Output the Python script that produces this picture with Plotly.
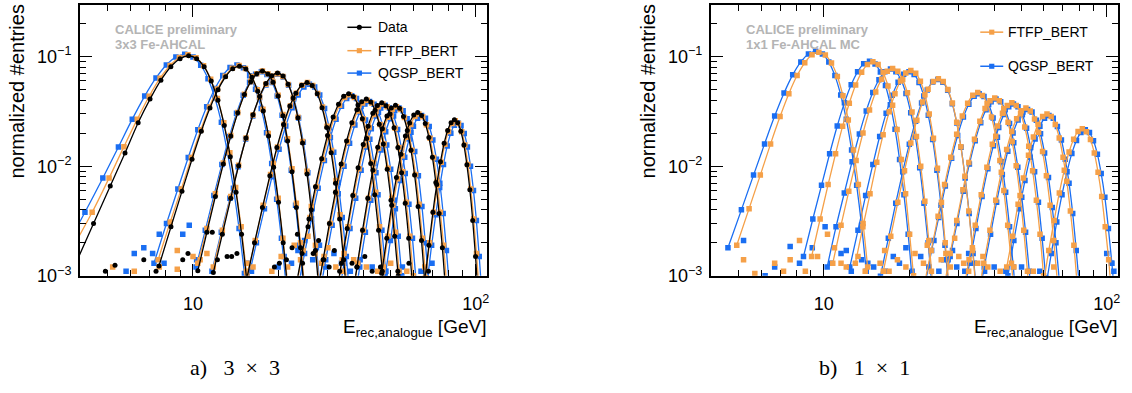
import plotly.graph_objects as go

W, H = 1132, 393
FONT = "Liberation Sans, Arial, sans-serif"
SERIF = "Liberation Serif, Times New Roman, serif"
ORANGE = "#F5A048"
BLUE = "#1A6EF2"
BLACK = "#000000"
GREY = "#b4b4b4"

energies = [10, 15, 18, 20, 25, 35, 40, 45, 50, 60, 80]

# ---------------- Panel a : 3x3 Fe-AHCAL (Data, FTFP_BERT, QGSP_BERT) ----------------
# centre of the peak bin and bin width for each beam energy (GeV)
a_data_centre = [9.65, 14.6, 17.6, 19.9, 25.3, 35.5, 41.0, 46.5, 52.0, 62.3, 84.0]
a_data_bw = [0.65, 0.78, 0.8, 0.9, 1.1, 1.4, 1.52, 1.63, 1.75, 1.98, 2.25]
a_data_y = [
    [0.0012, 0.003, 0.0066, 0.0132, 0.025, 0.041, 0.061, 0.081, 0.096, 0.102, 0.096, 0.081, 0.060, 0.040, 0.0235, 0.0122, 0.0058, 0.0024, 0.0009],
    [0.00123, 0.0028, 0.0059, 0.0116, 0.0209, 0.034, 0.050, 0.0656, 0.0775, 0.082, 0.0771, 0.0648, 0.0484, 0.032, 0.0189, 0.0098, 0.0047, 0.002, 0.00074],
    [0.00111, 0.0025, 0.0053, 0.0105, 0.0189, 0.0307, 0.0451, 0.0592, 0.070, 0.074, 0.0696, 0.0585, 0.0437, 0.0289, 0.017, 0.0089, 0.0042, 0.0018, 0.00067],
    [0.00107, 0.0024, 0.0051, 0.0101, 0.0181, 0.0295, 0.0433, 0.0568, 0.0671, 0.071, 0.0667, 0.0561, 0.0419, 0.0277, 0.0163, 0.0085, 0.004, 0.0017, 0.00064],
    [0.00087, 0.002, 0.0042, 0.0082, 0.0148, 0.0241, 0.0354, 0.0464, 0.0548, 0.058, 0.0545, 0.0458, 0.0342, 0.0226, 0.0133, 0.007, 0.0033, 0.0014, 0.00052],
    [0.00069, 0.0016, 0.0033, 0.0065, 0.0117, 0.0191, 0.0281, 0.0368, 0.0435, 0.046, 0.0432, 0.0363, 0.0271, 0.0179, 0.0106, 0.0055, 0.0026, 0.0011, 0.00041],
    [0.00062, 0.0014, 0.003, 0.0058, 0.0105, 0.017, 0.025, 0.0328, 0.0387, 0.041, 0.0385, 0.0324, 0.0242, 0.016, 0.0094, 0.0049, 0.0023, 0.001, 0.00037],
    [0.00057, 0.0013, 0.0027, 0.0054, 0.0097, 0.0158, 0.0232, 0.0304, 0.0359, 0.038, 0.0357, 0.030, 0.0224, 0.0148, 0.0087, 0.0046, 0.0022, 0.0009, 0.00034],
    [0.00054, 0.0012, 0.0026, 0.0051, 0.0092, 0.0149, 0.022, 0.0288, 0.034, 0.036, 0.0338, 0.0284, 0.0212, 0.014, 0.0083, 0.0043, 0.0021, 0.00086, 0.00032],
    [0.00105, 0.0022, 0.0044, 0.0079, 0.0129, 0.0189, 0.0248, 0.0293, 0.031, 0.0291, 0.0245, 0.0183, 0.0121, 0.0071, 0.0037, 0.0018, 0.00074],
    [0.0009, 0.0019, 0.0038, 0.0068, 0.011, 0.0162, 0.0212, 0.025, 0.0265, 0.0249, 0.0209, 0.0156, 0.0103, 0.0061, 0.0032, 0.0015, 0.00064],
]
a_data_tail_x = [4.9, 5.3, 6.7, 7.4, 9.2, 9.6, 11.7, 12.2, 13.2, 13.7, 14.3, 19.4, 20.2, 21.4, 22.4, 23.4, 24.4, 25.5, 26.6, 27.8, 29.0, 30.3, 31.6, 33.0, 36.5, 38.0, 40.5, 43.0, 46.0, 53.0, 58.0, 68.0]
a_data_tail_y = [0.0011, 0.00125, 0.0014, 0.0011, 0.0014, 0.0016, 0.0025, 0.0014, 0.0015, 0.0015, 0.0016, 0.0012, 0.0013, 0.0014, 0.0018, 0.0024, 0.0013, 0.0028, 0.0016, 0.0021, 0.0014, 0.0012, 0.0017, 0.0011, 0.0013, 0.0012, 0.0015, 0.0011, 0.0012, 0.0011, 0.0013, 0.0011]

a_ftfp_centre = [9.6, 14.55, 17.6, 19.9, 25.4, 35.8, 41.3, 46.9, 52.4, 62.9, 84.6]
a_ftfp_bw = [0.65, 0.78, 0.8, 0.9, 1.1, 1.41, 1.53, 1.65, 1.77, 2.0, 2.28]
a_ftfp_y = [
    [0.0018, 0.0038, 0.0078, 0.0151, 0.0268, 0.0435, 0.0636, 0.0832, 0.0983, 0.104, 0.098, 0.0827, 0.0624, 0.0416, 0.025, 0.0133, 0.0064, 0.0028, 0.0011],
    [0.0014, 0.0031, 0.0062, 0.012, 0.0214, 0.0347, 0.0508, 0.0664, 0.0784, 0.083, 0.0782, 0.066, 0.0498, 0.0332, 0.0199, 0.0106, 0.0051, 0.0022, 0.0009],
    [0.0013, 0.0027, 0.0056, 0.0107, 0.0191, 0.0309, 0.0453, 0.0592, 0.0699, 0.074, 0.0697, 0.0588, 0.0444, 0.0296, 0.0178, 0.0095, 0.0046, 0.002, 0.0008],
    [0.0012, 0.0026, 0.0053, 0.0102, 0.0181, 0.0293, 0.0428, 0.056, 0.0662, 0.070, 0.0659, 0.0557, 0.042, 0.028, 0.0168, 0.009, 0.0043, 0.0019, 0.00077],
    [0.001, 0.0021, 0.0044, 0.0084, 0.015, 0.0242, 0.0355, 0.0464, 0.0548, 0.058, 0.0546, 0.0461, 0.0348, 0.0232, 0.0139, 0.0074, 0.0036, 0.0016, 0.00064],
    [0.00077, 0.0017, 0.0034, 0.0065, 0.0116, 0.0188, 0.0275, 0.036, 0.0425, 0.045, 0.0424, 0.0358, 0.027, 0.018, 0.0108, 0.0058, 0.0028, 0.0012, 0.0005],
    [0.00068, 0.0015, 0.003, 0.0058, 0.0103, 0.0167, 0.0245, 0.032, 0.0378, 0.040, 0.0377, 0.0318, 0.024, 0.016, 0.0096, 0.0051, 0.0025, 0.0011, 0.00044],
    [0.00063, 0.0014, 0.0028, 0.0054, 0.0095, 0.0155, 0.0226, 0.0296, 0.035, 0.037, 0.0349, 0.0294, 0.0222, 0.0148, 0.0089, 0.0047, 0.0023, 0.001, 0.00041],
    [0.0006, 0.0013, 0.0026, 0.0051, 0.009, 0.0146, 0.0214, 0.028, 0.0331, 0.035, 0.033, 0.0278, 0.021, 0.014, 0.0084, 0.0045, 0.0022, 0.00095, 0.00039],
    [0.0011, 0.0023, 0.0044, 0.0077, 0.0125, 0.0184, 0.024, 0.0284, 0.030, 0.0283, 0.0239, 0.018, 0.012, 0.0072, 0.0038, 0.0019, 0.00081],
    [0.00096, 0.002, 0.0038, 0.0067, 0.0109, 0.0159, 0.0208, 0.0246, 0.026, 0.0245, 0.0207, 0.0156, 0.0104, 0.0062, 0.0033, 0.0016, 0.0007],
]
a_ftfp_tail_x = [5.2, 6.2, 7.6, 8.8, 8.8, 10.0, 10.6, 11.2, 15.5, 16.3, 19.0, 20.5, 21.6, 22.8, 24.0, 25.5, 27.0, 28.5, 30.0, 32.0, 34.0, 37.0, 41.0, 45.0, 50.0, 57.0, 66.0]
a_ftfp_tail_y = [0.0012, 0.0011, 0.0012, 0.00115, 0.0017, 0.0015, 0.0014, 0.0016, 0.0013, 0.0012, 0.0011, 0.0015, 0.0012, 0.0019, 0.0014, 0.0023, 0.0016, 0.0013, 0.0018, 0.0012, 0.0011, 0.0014, 0.0012, 0.0011, 0.0013, 0.0011, 0.0012]

a_qgsp_centre = [9.35, 14.3, 17.45, 19.95, 25.8, 36.4, 42.1, 47.8, 53.5, 64.3, 86.3]
a_qgsp_bw = [0.65, 0.78, 0.8, 0.92, 1.13, 1.45, 1.58, 1.7, 1.83, 2.06, 2.36]
a_qgsp_y = [
    [0.0017, 0.0038, 0.0078, 0.015, 0.0269, 0.0437, 0.064, 0.084, 0.0993, 0.105, 0.0991, 0.0837, 0.063, 0.042, 0.0252, 0.0132, 0.0063, 0.0027, 0.00105],
    [0.0013, 0.003, 0.0062, 0.012, 0.0215, 0.0349, 0.0512, 0.0672, 0.0795, 0.084, 0.0793, 0.067, 0.0504, 0.0336, 0.0202, 0.0106, 0.005, 0.0022, 0.00084],
    [0.0012, 0.0026, 0.0054, 0.0104, 0.0187, 0.0304, 0.0445, 0.0584, 0.0691, 0.073, 0.0689, 0.0582, 0.0438, 0.0292, 0.0175, 0.0092, 0.0044, 0.0019, 0.00073],
    [0.0011, 0.0025, 0.0051, 0.0099, 0.0177, 0.0287, 0.0421, 0.0552, 0.0653, 0.069, 0.0651, 0.055, 0.0414, 0.0276, 0.0166, 0.0087, 0.0041, 0.0018, 0.0007],
    [0.0009, 0.002, 0.0041, 0.008, 0.0143, 0.0233, 0.0342, 0.0448, 0.053, 0.056, 0.0529, 0.0446, 0.0336, 0.0224, 0.0134, 0.0071, 0.0034, 0.0015, 0.00056],
    [0.0007, 0.0016, 0.0033, 0.0063, 0.0113, 0.0183, 0.0268, 0.0352, 0.0416, 0.044, 0.0415, 0.0351, 0.0264, 0.0176, 0.0106, 0.0055, 0.0026, 0.0011, 0.00044],
    [0.00062, 0.0014, 0.0029, 0.0056, 0.01, 0.0162, 0.0238, 0.0312, 0.0369, 0.039, 0.0368, 0.0311, 0.0234, 0.0156, 0.0094, 0.0049, 0.0023, 0.001, 0.00039],
    [0.00058, 0.0013, 0.0027, 0.0051, 0.0092, 0.015, 0.022, 0.0288, 0.0341, 0.036, 0.034, 0.0287, 0.0216, 0.0144, 0.0086, 0.0045, 0.0022, 0.00094, 0.00036],
    [0.00054, 0.0012, 0.0025, 0.0049, 0.0087, 0.0141, 0.0207, 0.0272, 0.0322, 0.034, 0.0321, 0.0271, 0.0204, 0.0136, 0.0082, 0.0043, 0.002, 0.00088, 0.00034],
    [0.001, 0.0021, 0.0041, 0.0074, 0.0121, 0.0177, 0.0232, 0.0274, 0.029, 0.0274, 0.0231, 0.0174, 0.0116, 0.007, 0.0037, 0.0017, 0.00075],
    [0.0009, 0.0019, 0.0036, 0.0064, 0.0104, 0.0153, 0.020, 0.0237, 0.025, 0.0236, 0.0199, 0.015, 0.01, 0.006, 0.0032, 0.0015, 0.00065],
]
a_qgsp_tail_x = [5.8, 6.2, 6.7, 7.2, 7.6, 7.9, 9.2, 9.7, 10.3, 15.6, 16.1, 20.0, 21.0, 22.3, 23.5, 24.8, 26.5, 28.0, 29.5, 31.5, 33.5, 36.0, 39.0, 43.0, 48.0, 55.0, 64.0, 70.0]
a_qgsp_tail_y = [0.0011, 0.0016, 0.0018, 0.0016, 0.0024, 0.0013, 0.0024, 0.0029, 0.0014, 0.0013, 0.0011, 0.0012, 0.0015, 0.0013, 0.0017, 0.0021, 0.0014, 0.0019, 0.0012, 0.0016, 0.0013, 0.0011, 0.0014, 0.0012, 0.0011, 0.0012, 0.0011, 0.0013]

# ---------------- Panel b : 1x1 Fe-AHCAL MC (FTFP_BERT, QGSP_BERT) ----------------
b_ftfp_centre = [9.6, 14.9, 17.5, 20.3, 25.4, 35.0, 40.2, 46.2, 51.8, 61.5, 82.0]
b_ftfp_bw = [0.52, 0.65, 0.75, 0.82, 1.02, 1.38, 1.53, 1.7, 1.88, 2.15, 2.8]
b_ftfp_y = [
    [0.0019, 0.0041, 0.0083, 0.016, 0.0284, 0.046, 0.0673, 0.088, 0.104, 0.110, 0.1036, 0.0875, 0.066, 0.044, 0.0264, 0.0141, 0.0068, 0.003, 0.0012],
    [0.0015, 0.0033, 0.0068, 0.013, 0.0232, 0.0376, 0.0551, 0.072, 0.085, 0.090, 0.0848, 0.0716, 0.054, 0.036, 0.0216, 0.0115, 0.0056, 0.0024, 0.001],
    [0.0013, 0.0029, 0.0059, 0.0113, 0.0201, 0.0326, 0.0477, 0.0624, 0.0737, 0.078, 0.0735, 0.062, 0.0468, 0.0312, 0.0187, 0.01, 0.0048, 0.0021, 0.00086],
    [0.0013, 0.0028, 0.0056, 0.0109, 0.0194, 0.0314, 0.0459, 0.060, 0.0709, 0.075, 0.0707, 0.0596, 0.045, 0.030, 0.018, 0.0096, 0.0047, 0.002, 0.00083],
    [0.0011, 0.0023, 0.0047, 0.0091, 0.0163, 0.0263, 0.0386, 0.0504, 0.0595, 0.063, 0.0593, 0.0501, 0.0378, 0.0252, 0.0151, 0.0081, 0.0039, 0.0017, 0.0007],
    [0.0008, 0.0017, 0.0035, 0.0068, 0.0121, 0.0196, 0.0288, 0.0376, 0.0444, 0.047, 0.0443, 0.0374, 0.0282, 0.0188, 0.0113, 0.006, 0.0029, 0.0013, 0.00052],
    [0.00071, 0.0016, 0.0032, 0.0061, 0.0108, 0.0176, 0.0257, 0.0336, 0.0397, 0.042, 0.0396, 0.0334, 0.0252, 0.0168, 0.0101, 0.0054, 0.0026, 0.0011, 0.00046],
    [0.00065, 0.0014, 0.0029, 0.0055, 0.0098, 0.0159, 0.0233, 0.0304, 0.0359, 0.038, 0.0358, 0.0302, 0.0228, 0.0152, 0.0091, 0.0049, 0.0024, 0.001, 0.00042],
    [0.00058, 0.0013, 0.0026, 0.0049, 0.0088, 0.0142, 0.0208, 0.0272, 0.0321, 0.034, 0.032, 0.027, 0.0204, 0.0136, 0.0082, 0.0044, 0.0021, 0.00092, 0.00037],
    [0.0012, 0.0023, 0.0045, 0.0078, 0.0126, 0.0185, 0.0241, 0.0285, 0.030, 0.0284, 0.024, 0.0181, 0.0121, 0.0073, 0.0039, 0.0019, 0.0008],
    [0.00081, 0.0017, 0.0032, 0.0057, 0.0092, 0.0135, 0.0176, 0.0208, 0.022, 0.0207, 0.0175, 0.0132, 0.0088, 0.0053, 0.0028, 0.0014, 0.00059],
]
b_ftfp_tail_x = [5.2, 5.7, 6.7, 7.2, 7.6, 8.2, 8.6, 9.5, 10.3, 10.9, 12.0, 13.2, 14.0, 15.8, 17.0, 19.5, 21.0, 22.5, 24.0, 26.0, 28.0, 30.0, 32.5, 35.0, 38.0, 42.0, 47.0, 55.0, 65.0, 11.5, 16.4, 18.2, 23.2, 27.0, 29.0, 31.2, 33.5, 36.5]
b_ftfp_tail_y = [0.0014, 0.00105, 0.0013, 0.0011, 0.0014, 0.0021, 0.0011, 0.0015, 0.0024, 0.0018, 0.0012, 0.0015, 0.0011, 0.0013, 0.0011, 0.0012, 0.0016, 0.0013, 0.0011, 0.0014, 0.0012, 0.0015, 0.0011, 0.0013, 0.0012, 0.0011, 0.0012, 0.0011, 0.0012, 0.0013, 0.0017, 0.0014, 0.0019, 0.0016, 0.0022, 0.0013, 0.0018, 0.0015]

b_qgsp_centre = [9.35, 14.5, 17.2, 20.0, 25.3, 35.4, 40.6, 46.8, 52.5, 62.5, 84.0]
b_qgsp_bw = [0.53, 0.67, 0.77, 0.85, 1.05, 1.42, 1.58, 1.76, 1.95, 2.22, 2.9]
b_qgsp_y = [
    [0.0018, 0.004, 0.0083, 0.016, 0.0287, 0.0466, 0.0683, 0.0896, 0.106, 0.112, 0.1057, 0.0893, 0.0672, 0.0448, 0.0269, 0.0141, 0.0067, 0.0029, 0.0011],
    [0.0015, 0.0033, 0.0067, 0.013, 0.0233, 0.0379, 0.0555, 0.0728, 0.0861, 0.091, 0.0859, 0.0725, 0.0546, 0.0364, 0.0218, 0.0115, 0.0055, 0.0024, 0.00091],
    [0.0012, 0.0028, 0.0057, 0.011, 0.0197, 0.032, 0.047, 0.0616, 0.0728, 0.077, 0.0727, 0.0614, 0.0462, 0.0308, 0.0185, 0.0097, 0.0046, 0.002, 0.00077],
    [0.0012, 0.0026, 0.0054, 0.0104, 0.0187, 0.0304, 0.0445, 0.0584, 0.0691, 0.073, 0.0689, 0.0582, 0.0438, 0.0292, 0.0175, 0.0092, 0.0044, 0.0019, 0.00073],
    [0.00099, 0.0022, 0.0046, 0.0089, 0.0159, 0.0258, 0.0378, 0.0496, 0.0587, 0.062, 0.0585, 0.0494, 0.0372, 0.0248, 0.0149, 0.0078, 0.0037, 0.0016, 0.00062],
    [0.00074, 0.0017, 0.0034, 0.0066, 0.0118, 0.0191, 0.0281, 0.0368, 0.0435, 0.046, 0.0434, 0.0367, 0.0276, 0.0184, 0.011, 0.0058, 0.0028, 0.0012, 0.00046],
    [0.00066, 0.0015, 0.003, 0.0059, 0.0105, 0.0171, 0.025, 0.0328, 0.0388, 0.041, 0.0387, 0.0327, 0.0246, 0.0164, 0.0098, 0.0052, 0.0025, 0.0011, 0.00041],
    [0.00059, 0.0013, 0.0027, 0.0053, 0.0095, 0.0154, 0.0226, 0.0296, 0.035, 0.037, 0.0349, 0.0295, 0.0222, 0.0148, 0.0089, 0.0047, 0.0022, 0.00096, 0.00037],
    [0.00053, 0.0012, 0.0024, 0.0047, 0.0084, 0.0137, 0.0201, 0.0264, 0.0312, 0.033, 0.0312, 0.0263, 0.0198, 0.0132, 0.0079, 0.0042, 0.002, 0.00086, 0.00033],
    [0.001, 0.0021, 0.0041, 0.0074, 0.0121, 0.0177, 0.0232, 0.0274, 0.029, 0.0274, 0.0231, 0.0174, 0.0116, 0.007, 0.0037, 0.0017, 0.00075],
    [0.00077, 0.0016, 0.0031, 0.0055, 0.0089, 0.0131, 0.0172, 0.0203, 0.0215, 0.0203, 0.0171, 0.0129, 0.0086, 0.0052, 0.0027, 0.0013, 0.00056],
]
b_qgsp_tail_x = [5.2, 6.2, 6.7, 7.6, 8.2, 9.1, 10.1, 10.6, 11.5, 12.5, 13.6, 15.0, 16.5, 18.5, 20.5, 22.0, 23.5, 25.5, 27.5, 29.5, 31.5, 34.0, 37.0, 40.0, 44.0, 50.0, 58.0, 100.0, 104.0, 106.0, 12.0, 14.3, 17.6, 19.5, 24.5, 26.5, 28.5, 32.5]
b_qgsp_tail_y = [0.0021, 0.001, 0.0012, 0.00185, 0.0013, 0.0018, 0.0028, 0.0013, 0.0016, 0.0011, 0.0014, 0.0012, 0.0011, 0.0013, 0.0011, 0.0015, 0.0012, 0.0011, 0.0014, 0.0012, 0.0011, 0.0013, 0.0011, 0.0012, 0.0011, 0.0012, 0.0011, 0.0016, 0.0013, 0.0011, 0.0017, 0.0013, 0.0015, 0.0018, 0.0021, 0.0014, 0.0017, 0.0016]

x_tickvals = [10, 100]
x_ticktext = ["10", "10<sup>2</sup>"]
x_minor = [4, 5, 6, 7, 8, 9, 20, 30, 40, 50, 60, 70, 80, 90]
y_tickvals = [0.001, 0.01, 0.1]
y_ticktext = ["10<sup>\u22123</sup>", "10<sup>\u22122</sup>", "10<sup>\u22121</sup>"]
y_minor = [0.002, 0.003, 0.004, 0.005, 0.006, 0.007, 0.008, 0.009,
           0.02, 0.03, 0.04, 0.05, 0.06, 0.07, 0.08, 0.09, 0.2]


def hist_xy(centres, widths, ys):
    """Bin centres of each histogram (one per beam energy), gaps between them."""
    xs, yv = [], []
    for c, w, y in zip(centres, widths, ys):
        k = (len(y) - 1) // 2
        xs += [c + (i - k) * w for i in range(len(y))] + [None]
        yv += list(y) + [None]
    return xs, yv


def px_x(p):
    return p / W


def px_y(p):
    return 1 - p / H


fig = go.Figure()


def add_series(centres, widths, ys, tx, ty, color, symbol, size, xa, ya):
    fig.add_trace(go.Scatter(x=tx, y=ty, mode="markers", xaxis=xa, yaxis=ya,
                             marker=dict(color=color, symbol=symbol, size=size, line=dict(width=0)),
                             hoverinfo="skip"))
    x, y = hist_xy(centres, widths, ys)
    fig.add_trace(go.Scatter(x=x, y=y, mode="lines+markers", xaxis=xa, yaxis=ya,
                             line=dict(color=color, width=1.3, shape="spline"),
                             marker=dict(color=color, symbol=symbol, size=size, line=dict(width=0)),
                             connectgaps=False, hoverinfo="skip"))


# panel a: QGSP below, FTFP, Data on top
add_series(a_qgsp_centre, a_qgsp_bw, a_qgsp_y, a_qgsp_tail_x, a_qgsp_tail_y, BLUE, "square", 5.5, "x", "y")
add_series(a_ftfp_centre, a_ftfp_bw, a_ftfp_y, a_ftfp_tail_x, a_ftfp_tail_y, ORANGE, "square", 5.5, "x", "y")
add_series(a_data_centre, a_data_bw, a_data_y, a_data_tail_x, a_data_tail_y, BLACK, "circle", 5, "x", "y")
# panel b: QGSP below, FTFP on top
add_series(b_qgsp_centre, b_qgsp_bw, b_qgsp_y, b_qgsp_tail_x, b_qgsp_tail_y, BLUE, "square", 5.5, "x2", "y2")
add_series(b_ftfp_centre, b_ftfp_bw, b_ftfp_y, b_ftfp_tail_x, b_ftfp_tail_y, ORANGE, "square", 5.5, "x2", "y2")


def xaxis_cfg(domain, anchor):
    return dict(type="log", range=[0.6, 2.04], domain=domain, anchor=anchor,
                showline=True, linecolor="black", linewidth=1.6, mirror="allticks",
                ticks="inside", ticklen=12, tickwidth=1.2, tickcolor="black",
                tickvals=x_tickvals, ticktext=x_ticktext,
                minor=dict(tickvals=x_minor, ticks="inside", ticklen=6, tickwidth=1.2, tickcolor="black"),
                showgrid=False, zeroline=False, ticklabelstandoff=11,
                tickfont=dict(size=18, family=FONT, color="black"))


def yaxis_cfg(anchor):
    return dict(type="log", range=[-3, -0.527], domain=[1 - 283 / H, 1 - 5 / H], anchor=anchor,
                showline=True, linecolor="black", linewidth=1.6, mirror="allticks",
                ticks="inside", ticklen=12, tickwidth=1.2, tickcolor="black",
                tickvals=y_tickvals, ticktext=y_ticktext,
                minor=dict(tickvals=y_minor, ticks="inside", ticklen=6, tickwidth=1.2, tickcolor="black"),
                showgrid=False, zeroline=False, ticklabelstandoff=3,
                tickfont=dict(size=18, family=FONT, color="black"))


fig.update_layout(
    width=W, height=H, margin=dict(l=0, r=0, t=0, b=0),
    paper_bgcolor="white", plot_bgcolor="white", showlegend=False,
    font=dict(family=FONT, color="black"),
    xaxis=xaxis_cfg([80 / W, 488 / W], "y"),
    yaxis=yaxis_cfg("x"),
    xaxis2=xaxis_cfg([712 / W, 1120 / W], "y2"),
    yaxis2=yaxis_cfg("x2"),
)

annotations = []
shapes = []
# axis titles
for xc in (17, 649):
    annotations.append(dict(text="normalized #entries", x=px_x(xc), y=px_y(93), xref="paper", yref="paper",
                            textangle=-90, showarrow=False, xanchor="center", yanchor="middle",
                            font=dict(size=20, family=FONT, color="black")))
for xr in (489, 1121):
    annotations.append(dict(text="E<sub>rec,analogue</sub> [GeV]", x=px_x(xr), y=px_y(337), xref="paper",
                            yref="paper", showarrow=False, xanchor="right", yanchor="middle",
                            font=dict(size=19, family=FONT, color="black")))
# captions
annotations.append(dict(text="a)\u2002 3\u2002\u00d7\u20023", x=px_x(235), y=px_y(377), xref="paper", yref="paper",
                        showarrow=False, xanchor="center", yanchor="middle",
                        font=dict(size=22, family=SERIF, color="black")))
annotations.append(dict(text="b)\u2002 1\u2002\u00d7\u20021", x=px_x(866), y=px_y(377), xref="paper", yref="paper",
                        showarrow=False, xanchor="center", yanchor="middle",
                        font=dict(size=22, family=SERIF, color="black")))
# CALICE labels
for xl, line2 in ((113, "3x3 Fe-AHCAL"), (745, "1x1 Fe-AHCAL MC")):
    annotations.append(dict(text="<b>CALICE preliminary</b>", x=px_x(xl), y=px_y(30), xref="paper", yref="paper",
                            showarrow=False, xanchor="left", yanchor="middle",
                            font=dict(size=13, family=FONT, color=GREY)))
    annotations.append(dict(text="<b>" + line2 + "</b>", x=px_x(xl), y=px_y(46), xref="paper", yref="paper",
                            showarrow=False, xanchor="left", yanchor="middle",
                            font=dict(size=13, family=FONT, color=GREY)))

# legends (drawn by hand, ROOT style)
legend_items = [
    (348, 372, 377, 28, "Data", BLACK, "circle"),
    (348, 372, 377, 52, "FTFP_BERT", ORANGE, "square"),
    (348, 372, 377, 75, "QGSP_BERT", BLUE, "square"),
    (982, 1005, 1008, 33, "FTFP_BERT", ORANGE, "square"),
    (982, 1005, 1008, 68, "QGSP_BERT", BLUE, "square"),
]
for x0, x1, xt, yc, label, col, sym in legend_items:
    shapes.append(dict(type="line", xref="paper", yref="paper", x0=px_x(x0), x1=px_x(x1),
                       y0=px_y(yc), y1=px_y(yc), line=dict(color=col, width=1.5)))
    xm = (x0 + x1) / 2
    r = 2.6
    shapes.append(dict(type="circle" if sym == "circle" else "rect", xref="paper", yref="paper",
                       x0=px_x(xm - r), x1=px_x(xm + r), y0=px_y(yc + r), y1=px_y(yc - r),
                       fillcolor=col, line=dict(width=0)))
    annotations.append(dict(text=label, x=px_x(xt), y=px_y(yc), xref="paper", yref="paper",
                            showarrow=False, xanchor="left", yanchor="middle",
                            font=dict(size=14, family=FONT, color="black")))

fig.update_layout(annotations=annotations, shapes=shapes)
fig.write_html("out.html")
